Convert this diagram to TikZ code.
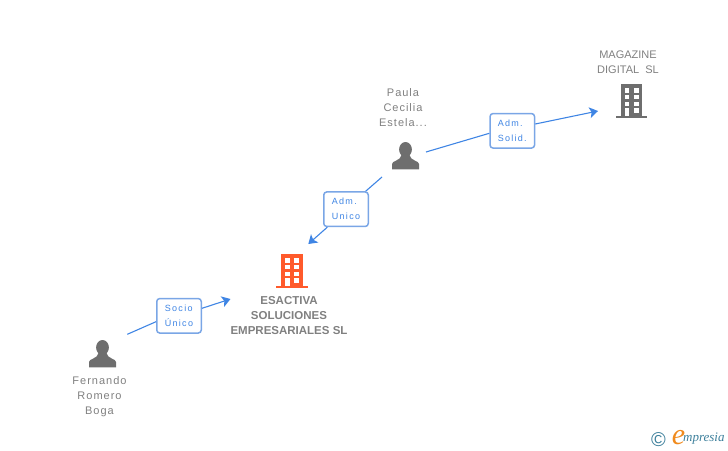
\documentclass[tikz,border=0pt]{standalone}
\usepackage{fontspec}
\setmainfont{Liberation Sans}
\newfontfamily\namefont[LetterSpace=9]{Liberation Sans}
\newfontfamily\rolefont[LetterSpace=14]{Liberation Sans}
\newfontfamily\logofont{Liberation Serif}
\usetikzlibrary{arrows.meta}
\definecolor{linkblue}{HTML}{3F85E4}
\definecolor{boxblue}{HTML}{7AA6E6}
\definecolor{icongray}{HTML}{6E6E6E}
\definecolor{textgray}{HTML}{808080}
\definecolor{firmorange}{HTML}{FF5A2B}
\definecolor{logoteal}{HTML}{3C7F9B}
\definecolor{logoorange}{HTML}{F08A1D}

\tikzset{
  namelabel/.style={align=center,text=textgray,inner sep=0pt,font=\namefont\fontsize{11}{15}\selectfont},
  capslabel/.style={align=center,text=textgray,inner sep=0pt,font=\fontsize{11}{15}\selectfont},
  firmlabel/.style={align=center,text=textgray,inner sep=0pt,font=\bfseries\fontsize{11.5}{15}\selectfont},
  rolebox/.style={draw=boxblue,line width=1.5pt,fill=white,rounded corners=3pt,align=left,text=linkblue,
    minimum width=44.5pt,minimum height=34.5pt,inner sep=0pt,font=\rolefont\fontsize{9}{15}\selectfont},
  link/.style={draw=linkblue,line width=1.1pt},
  linkarrow/.style={link,-{Stealth[length=8.5pt,width=11pt,inset=2pt]}},
  pics/firm/.style={code={
    \fill[#1] (-10.8,0) rectangle (10.8,32);
    \fill[#1] (-15.7,32) rectangle (15.7,33.7);
    \foreach \rowy in {4,10.5,17.5,24}{
      \fill[white] (-6.8,\rowy) rectangle (-2.4,\rowy+4.5);
      \fill[white] (2.4,\rowy) rectangle (7.4,\rowy+4.5);
    }
    \fill[white] (-6.8,28) rectangle (-2.4,32);
  }},
  pics/person/.style={code={
    \fill[icongray] (0,7.5) ellipse (6.4 and 7.5);
    \fill[icongray] (-13.5,27.3) -- (-13.5,22) .. controls (-13.5,18.5) and (-5,19) .. (-4,13)
      -- (4,13) .. controls (5,19) and (13.5,18.5) .. (13.5,22) -- (13.5,27.3) -- cycle;
  }}
}

\begin{document}
\begin{tikzpicture}[x=1pt,y=-1pt]

\useasboundingbox (0,0) rectangle (728,450);

% companies
\pic at (631.5,84) {firm=icongray};
\pic at (292,254) {firm=firmorange};

\node[capslabel] (magazine) at (628,62.5) {MAGAZINE\\DIGITAL\ \ SL};
\node[firmlabel] (esactiva) at (289,315.5) {ESACTIVA\\SOLUCIONES\\EMPRESARIALES SL};

% people
\pic at (405.5,142) {person};
\pic at (102.5,340) {person};

\node[namelabel] (paula) at (403,108) {Paula\\Cecilia\\Estela...};
\node[namelabel] (fernando) at (99.5,396.5) {Fernando\\Romero\\Boga};

% roles
\node[rolebox] (admsolid) at (512.3,130.8) {Adm.\\Solid.};
\node[rolebox] (admunico) at (346,209.2) {Adm.\\Unico};
\node[rolebox] (sociounico) at (179,315.8) {Socio\\Único};

% free ends
\coordinate (paulaout) at (426,152);
\coordinate (paulain) at (382,177);
\coordinate (fernandoout) at (127.3,334.3);
\coordinate (magazinein) at (598,111);
\coordinate (esactivatop) at (308.3,244);
\coordinate (esactivaleft) at (230.5,299);

\draw[link] (paulaout) -- ([yshift=-2.5pt]admsolid.west);
\draw[linkarrow] ([yshift=6.8pt]admsolid.east) -- (magazinein);
\draw[link] (paulain) -- ([xshift=19.7pt]admunico.north);
\draw[linkarrow] ([xshift=-18.7pt]admunico.south) -- (esactivatop);
\draw[link] (fernandoout) -- ([yshift=-5.9pt]sociounico.west);
\draw[linkarrow] ([yshift=7.5pt]sociounico.east) -- (esactivaleft);

% logo
\node[text=logoteal,inner sep=0pt,font=\fontsize{20}{20}\selectfont] (copyright) at (658.5,439.5) {©};
\node[text=logoorange,inner sep=0pt,font=\logofont\itshape\fontsize{30}{30}\selectfont] (logoe) at (678.5,437.5) {e};
\node[text=logoteal,inner sep=0pt,anchor=west,font=\logofont\itshape\fontsize{13}{13}\selectfont] (logotext) at (683,439) {mpresia};

\end{tikzpicture}
\end{document}
